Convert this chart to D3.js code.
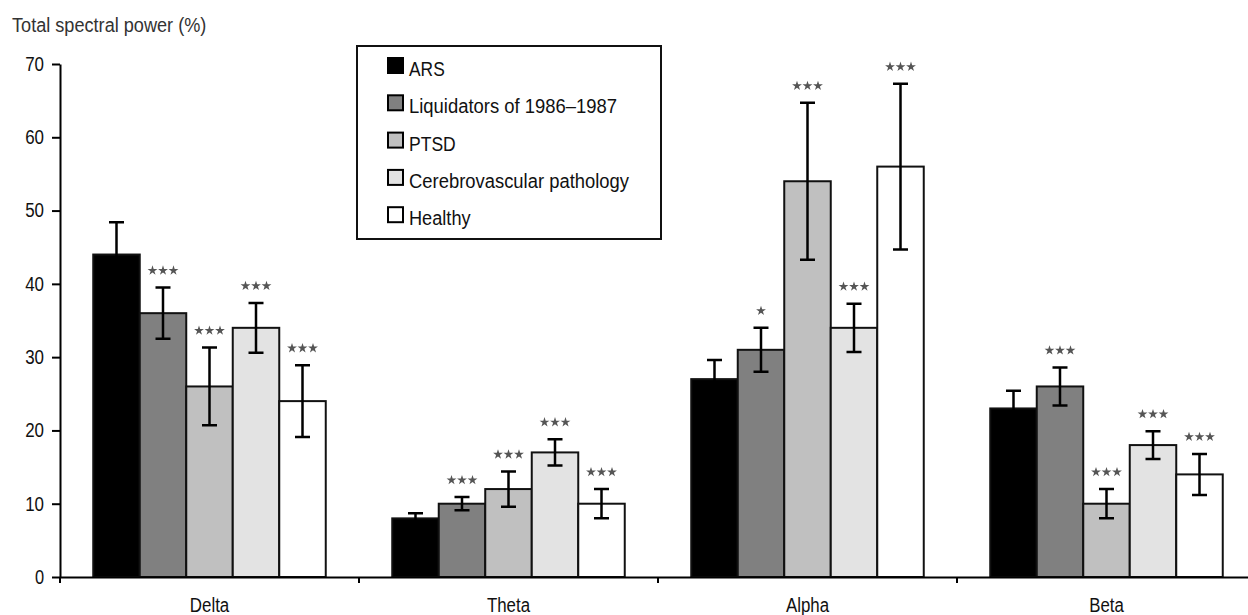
<!DOCTYPE html>
<html>
<head>
<meta charset="utf-8">
<script src="https://cdn.jsdelivr.net/npm/d3@7"></script>
<style>
  body { margin: 0; background: #fff; }
  svg text { font-family: "Liberation Sans", Arial, sans-serif; fill: #111; }
</style>
</head>
<body>
<div id="chart-area"></div>
<script>
// bands on the x axis
const bands = ['Delta', 'Theta', 'Alpha', 'Beta'];
// groups, one bar per band
const groups = ['ARS', 'Liquidators of 1986\u20131987', 'PTSD', 'Cerebrovascular pathology', 'Healthy'];
const fills = ['#000000', '#808080', '#c0c0c0', '#e3e3e3', '#ffffff'];

// mean values (%) per group, in band order
const arsMean = [44, 8, 27, 23];
const liqMean = [36, 10, 31, 26];
const ptsdMean = [26, 12, 54, 10];
const cvpMean = [34, 17, 34, 18];
const healthyMean = [24, 10, 56, 14];

// error (+/-) per group
const arsErr = [4.4, 0.7, 2.6, 2.4];
const liqErr = [3.5, 0.9, 3.0, 2.6];
const ptsdErr = [5.3, 2.4, 10.7, 2.0];
const cvpErr = [3.4, 1.8, 3.3, 1.9];
const healthyErr = [4.9, 2.0, 11.3, 2.8];

// significance marks (number of stars)
const arsSig = [0, 0, 0, 0];
const liqSig = [3, 3, 1, 3];
const ptsdSig = [3, 3, 3, 3];
const cvpSig = [3, 3, 3, 3];
const healthySig = [3, 3, 3, 3];

const yTicks = [0, 10, 20, 30, 40, 50, 60, 70];

const means = [arsMean, liqMean, ptsdMean, cvpMean, healthyMean];
const errs = [arsErr, liqErr, ptsdErr, cvpErr, healthyErr];
const sigs = [arsSig, liqSig, ptsdSig, cvpSig, healthySig];

// flatten into one row per bar
const data = [];
bands.forEach((b, bi) => {
  groups.forEach((g, gi) => {
    data.push({ band: b, group: g, gi: gi, value: means[gi][bi], err: errs[gi][bi], sig: sigs[gi][bi] });
  });
});

// squeeze text into a narrow face (no narrow font installed)
function narrow(sel, ls) {
  sel.each(function () {
    const n = this.getComputedTextLength();
    const len = this.textContent.length;
    d3.select(this)
      .attr('textLength', n * 0.82 + (len - 1) * ls)
      .attr('lengthAdjust', 'spacingAndGlyphs');
  });
}

const W = 1248, H = 615;
const svg = d3.select('#chart-area')
  .append('svg')
  .attr('width', W)
  .attr('height', H);

const x = d3.scaleBand()
  .domain(bands)
  .range([60, 1256])
  .paddingInner(0)
  .paddingOuter(0);

const xg = d3.scaleBand()
  .domain(groups)
  .range([0, x.bandwidth()])
  .paddingInner(0)
  .paddingOuter(0.715);

const y = d3.scaleLinear()
  .domain([0, 70])
  .range([577, 64]);

// y axis title
svg.append('text')
  .attr('x', 12)
  .attr('y', 32)
  .attr('font-size', '20px')
  .style('fill', '#333')
  .text('Total spectral power (%)')
  .call(narrow, 0.8);

// bars
const bar = svg.selectAll('g.bar')
  .data(data)
  .enter()
  .append('g')
  .attr('class', 'bar')
  .attr('transform', d => 'translate(' + (x(d.band) + xg(d.group)) + ',0)');

bar.append('rect')
  .attr('x', 0)
  .attr('y', d => y(d.value))
  .attr('width', xg.bandwidth())
  .attr('height', d => y(0) - y(d.value))
  .attr('fill', d => fills[d.gi])
  .attr('stroke', '#111')
  .attr('stroke-width', 2);

// error bars
const cx = xg.bandwidth() / 2;
const cap = 7.5;
bar.append('path')
  .attr('d', d => {
    const t = y(d.value + d.err), b = y(d.value - d.err);
    return 'M' + cx + ',' + t + 'V' + b +
      'M' + (cx - cap) + ',' + t + 'H' + (cx + cap) +
      'M' + (cx - cap) + ',' + b + 'H' + (cx + cap);
  })
  .attr('fill', 'none')
  .attr('stroke', '#000')
  .attr('stroke-width', 2.5);

// significance stars
const star = d3.symbol().type(d3.symbolStar).size(30);
bar.each(function (d) {
  const n = d.sig;
  const yy = y(d.value + d.err) - 17;
  for (let i = 0; i < n; i++) {
    d3.select(this).append('path')
      .attr('d', star)
      .attr('transform', 'translate(' + (cx + (i - (n - 1) / 2) * 10.5) + ',' + yy + ')')
      .attr('fill', '#555');
  }
});

// y axis
const yAxisCall = d3.axisLeft(y)
  .tickValues(yTicks)
  .tickSize(8)
  .tickSizeOuter(0)
  .tickPadding(8);
const yAx = svg.append('g')
  .attr('transform', 'translate(60,0)')
  .call(yAxisCall);
yAx.select('.domain').attr('stroke', '#000').attr('stroke-width', 2);
yAx.selectAll('.tick line').attr('stroke', '#000').attr('stroke-width', 2);
yAx.selectAll('.tick text')
  .attr('font-size', '20px')
  .style('font-family', '"Liberation Sans", Arial, sans-serif')
  .style('fill', '#111')
  .call(narrow, 0.6);

// x axis (labels centred in bands, ticks at band edges)
const xAxisCall = d3.axisBottom(x).tickSize(0).tickSizeOuter(0).tickPadding(21);
const xAx = svg.append('g')
  .attr('transform', 'translate(0,' + y(0) + ')')
  .call(xAxisCall);
xAx.select('.domain').attr('stroke', '#000').attr('stroke-width', 2);
xAx.selectAll('.tick text')
  .attr('font-size', '20px')
  .style('font-family', '"Liberation Sans", Arial, sans-serif')
  .style('fill', '#111')
  .call(narrow, 0.3);

xAx.selectAll('line.edge')
  .data(bands)
  .enter()
  .append('line')
  .attr('class', 'edge')
  .attr('x1', d => x(d))
  .attr('x2', d => x(d))
  .attr('y1', 0)
  .attr('y2', 6)
  .attr('stroke', '#000')
  .attr('stroke-width', 2);

// legend
const lg = svg.append('g').attr('transform', 'translate(357,46)');
lg.append('rect')
  .attr('width', 304)
  .attr('height', 193)
  .attr('fill', '#fff')
  .attr('stroke', '#111')
  .attr('stroke-width', 2);

const item = lg.selectAll('g.item')
  .data(groups)
  .enter()
  .append('g')
  .attr('class', 'item')
  .attr('transform', (d, i) => 'translate(31,' + (19.5 + i * 37.3) + ')');

item.append('rect')
  .attr('x', 0)
  .attr('y', -7.5)
  .attr('width', 15)
  .attr('height', 15)
  .attr('fill', (d, i) => fills[i])
  .attr('stroke', '#000')
  .attr('stroke-width', 2);

item.append('text')
  .attr('x', 21)
  .attr('y', 10.5)
  .attr('font-size', '20px')
  .text(d => d)
  .call(narrow, 1);
</script>
</body>
</html>
